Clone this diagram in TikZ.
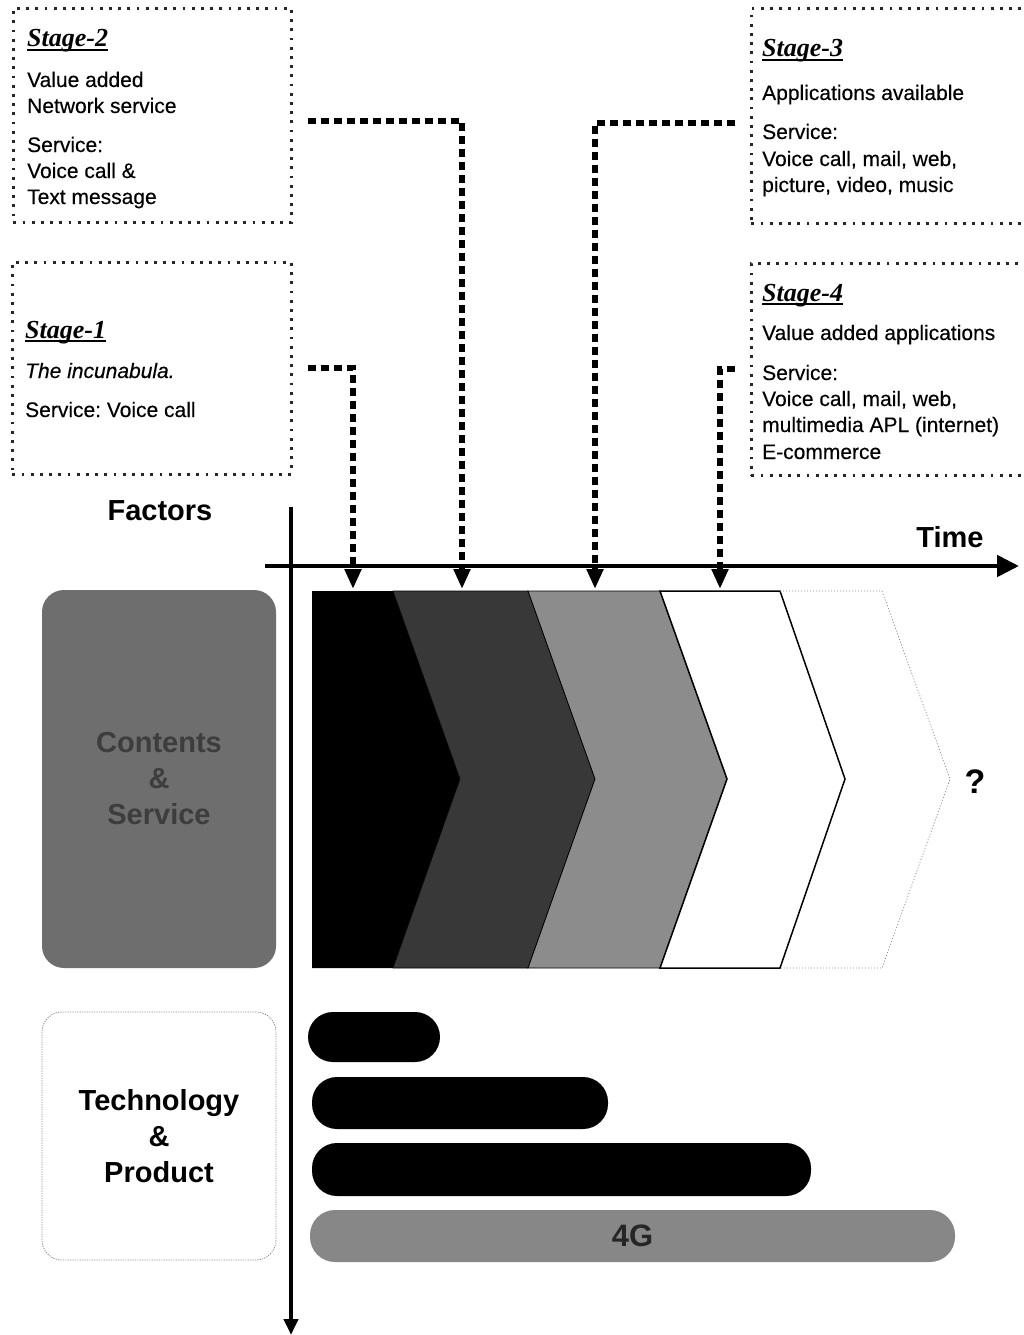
\documentclass[tikz,border=0pt]{standalone}
\usepackage{fontspec}
\setmainfont{Liberation Sans}
\newfontfamily\bodyfont{Liberation Sans}[FakeBold=0.3]
\newfontfamily\headserif{Liberation Serif}
\usetikzlibrary{arrows.meta}
\frenchspacing
% underline drawn at a fixed depth under the stage titles
\newcommand\stul[1]{\setbox0\hbox{#1}\rlap{\rule[-3.6pt]{\wd0}{1.3pt}}\box0}

\begin{document}
\begin{tikzpicture}[x=1pt,y=-1pt,
  stagebox/.style={draw=black!85, line width=2.8pt, dash pattern=on 2.8pt off 6.4pt,
                   anchor=north west, inner sep=0pt},
  body/.style={anchor=base west, inner sep=0pt, font=\bodyfont\fontsize{21}{25}\selectfont},
  stitle/.style={anchor=base west, inner sep=0pt,
                 font=\headserif\bfseries\itshape\fontsize{26}{30}\selectfont},
  heading/.style={font=\bfseries\fontsize{29}{36}\selectfont, align=center, inner sep=0pt},
  link/.style={line width=6pt, dash pattern=on 8pt off 5pt,
               -{Triangle[width=16pt,length=20pt]}},
  chev/.style={line join=miter},
  bar/.style={inner sep=0pt, rounded corners=25pt}
]
\fill[white] (0,0) rectangle (1023,1335);
\useasboundingbox (0,0) rectangle (1023,1335);

% ---------- stage boxes ----------
\node[stagebox, minimum width=278pt, minimum height=214pt] (s2) at (12,7) {};
\node[stagebox, minimum width=279pt, minimum height=212pt] (s1) at (11,261) {};
\node[stagebox, minimum width=285pt, minimum height=215pt] (s3) at (750,7) {};
\node[stagebox, minimum width=285pt, minimum height=212pt] (s4) at (750,262) {};

% Stage-2
\node[stitle] (s2h) at (27,47) {\stul{Stage-2}};
\node[body] (s2a) at (27,87) {Value added};
\node[body] (s2b) at (27,113) {Network service};
\node[body] (s2c) at (27,152) {Service:};
\node[body] (s2d) at (27,178) {Voice call \&};
\node[body] (s2e) at (27,204) {Text message};

% Stage-1
\node[stitle] (s1h) at (25,338) {\stul{Stage-1}};
\node[body, font=\bodyfont\itshape\fontsize{21}{25}\selectfont] (s1a) at (25,378) {The incunabula.};
\node[body] (s1b) at (25,417) {Service: Voice call};

% Stage-3
\node[stitle] (s3h) at (762,57) {\stul{Stage-3}};
\node[body] (s3a) at (762,100) {Applications available};
\node[body] (s3b) at (762,139) {Service:};
\node[body] (s3c) at (762,166) {Voice call, mail, web,};
\node[body] (s3d) at (762,192) {picture, video, music};

% Stage-4
\node[stitle] (s4h) at (762,301) {\stul{Stage-4}};
\node[body] (s4a) at (762,340) {Value added applications};
\node[body] (s4b) at (762,380) {Service:};
\node[body] (s4c) at (762,406) {Voice call, mail, web,};
\node[body] (s4d) at (762,432) {multimedia APL (internet)};
\node[body] (s4e) at (762,459) {E-commerce};

% ---------- factor boxes ----------
\node[heading, fill=black!57, text=black!76, rounded corners=22pt,
      minimum width=234pt, minimum height=378pt] (cs) at (159,779)
      {Contents\\\&\\Service};
\node[heading, draw=black!45, line width=0.8pt, dash pattern=on 1.2pt off 1.2pt,
      rounded corners=20pt, minimum width=234pt, minimum height=248pt] (tp) at (159,1136)
      {Technology\\\&\\Product};

% ---------- chevrons ----------
\fill[chev, black] (312,591) -- (393,591) -- (460,779) -- (393,968) -- (312,968) -- cycle;
\filldraw[chev, fill=black!78, draw=black, line width=0.6pt]
  (393,591) -- (528,591) -- (595,779) -- (528,968) -- (393,968) -- (460,779) -- cycle;
\filldraw[chev, fill=black!45, draw=black, line width=0.8pt]
  (528,591) -- (660,591) -- (727,779) -- (660,968) -- (528,968) -- (595,779) -- cycle;
\filldraw[chev, fill=white, draw=black, line width=1.5pt]
  (660,591) -- (780,591) -- (845,779) -- (780,968) -- (660,968) -- (727,779) -- cycle;
\draw[chev, black!45, line width=0.8pt, dash pattern=on 1pt off 2pt]
  (780,591) -- (882,591) -- (950,779) -- (882,968) -- (780,968);
\node[font=\bfseries\fontsize{34}{40}\selectfont, inner sep=0pt] (q) at (975,782) {?};

% ---------- technology bars ----------
\node[bar, fill=black, minimum width=132pt, minimum height=50pt] (g1) at (374,1037) {};
\node[bar, fill=black, minimum width=296pt, minimum height=52pt] (g2) at (460,1103) {};
\node[bar, fill=black, minimum width=499pt, minimum height=53pt] (g3) at (561.5,1169.5) {};
\node[bar, fill=black!47, text=black!85, font=\bfseries\fontsize{31}{36}\selectfont,
      minimum width=645pt, minimum height=52pt] (g4) at (632.5,1236) {4G};

% ---------- axes ----------
\node[heading] (fac) at (160,511) {Factors};
\node[heading] (tim) at (950,537) {Time};
\coordinate (xa) at (265,566);
\coordinate (xb) at (1019,566);
\coordinate (ya) at (291,507);
\coordinate (yb) at (291,1335);
\draw[line width=4.8pt, -{Triangle[width=21pt,length=22pt]}] (xa) -- (xb);
\draw[line width=4pt, -{Triangle[width=14pt,length=16pt]}] (ya) -- (yb);

% ---------- stage links onto the time line ----------
\coordinate (t1) at (353,589);
\coordinate (t2) at (462,589);
\coordinate (t3) at (595,589);
\coordinate (t4) at (720,589);
\draw[link] ([xshift=15pt]s1.east) -| (t1);
\draw[link] ([xshift=15pt,yshift=-6pt]s2.east) -| (t2);
\draw[link] ([xshift=-15pt,yshift=-7pt]s3.west) -| (t3);
\draw[link] ([xshift=-15pt]s4.west) -| (t4);
\end{tikzpicture}
\end{document}
